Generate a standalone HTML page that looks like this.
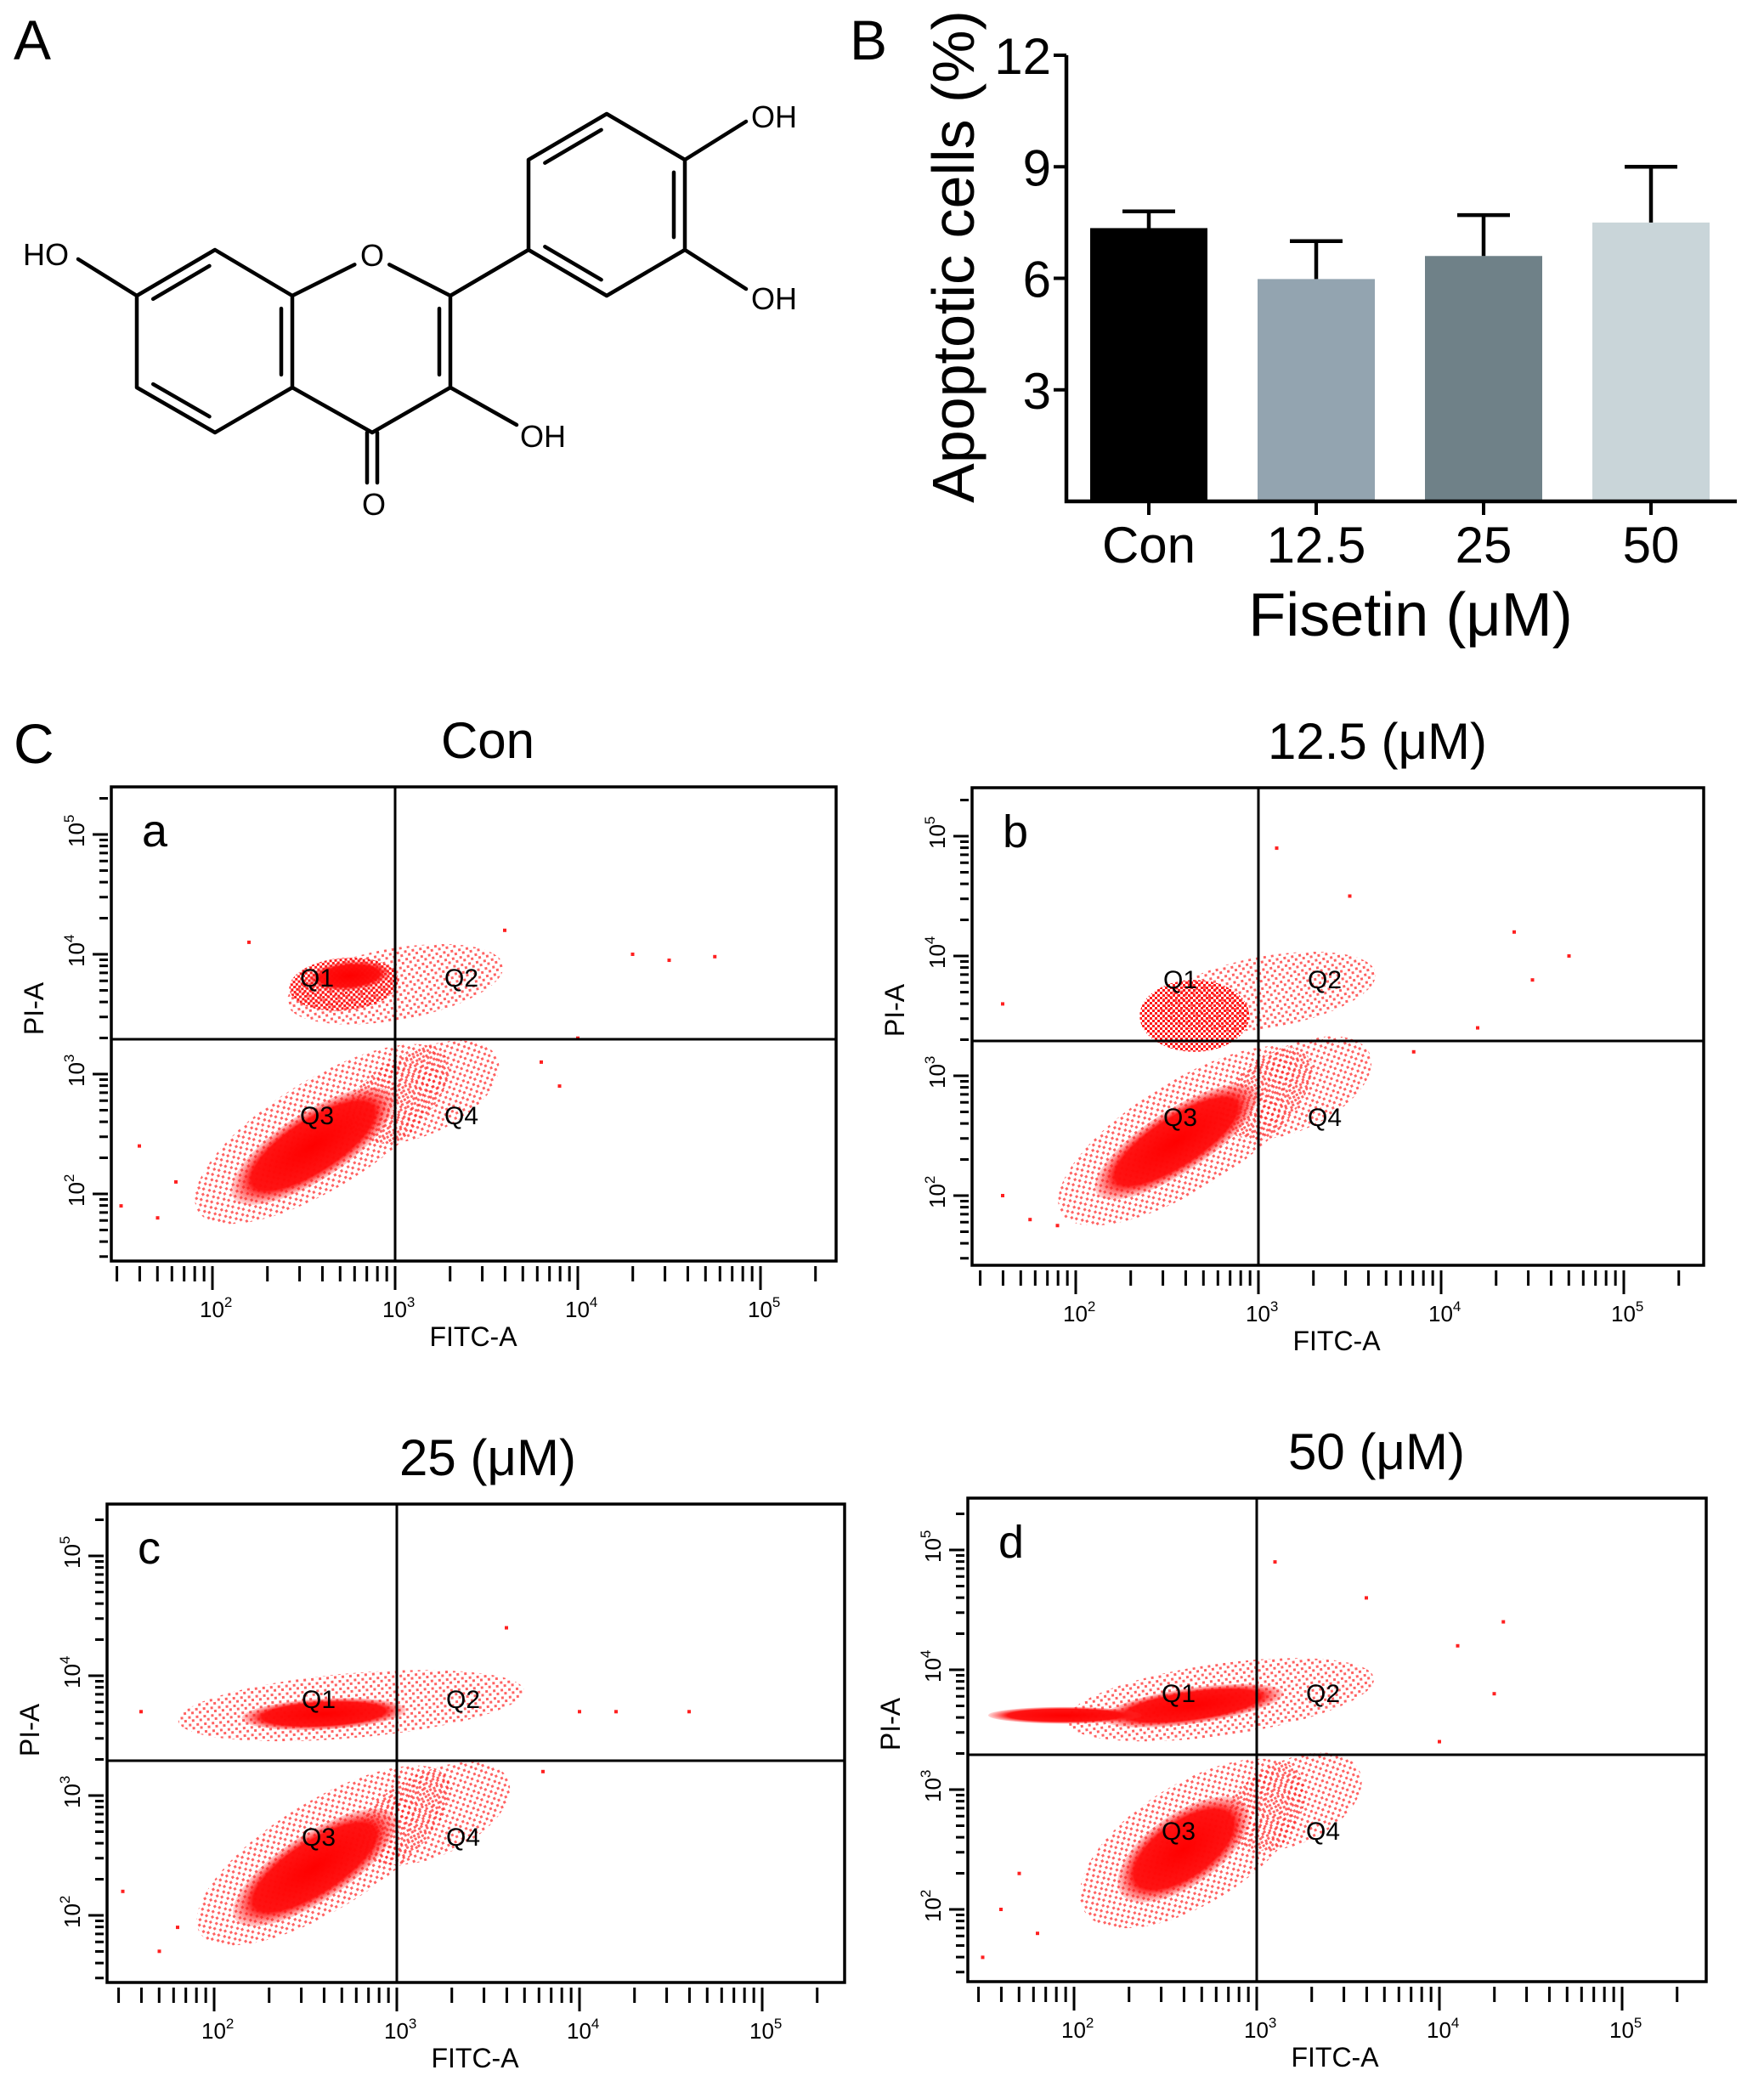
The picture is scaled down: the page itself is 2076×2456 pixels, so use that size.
<!DOCTYPE html>
<html><head><meta charset="utf-8">
<style>
html,body{margin:0;padding:0;background:#fff;}
svg{display:block;font-family:"Liberation Sans",Arial,sans-serif;}
</style></head>
<body>
<svg id="fig" width="2076" height="2456" viewBox="0 0 2076 2456" xmlns="http://www.w3.org/2000/svg">
<defs>
<pattern id="dots" width="9" height="9" patternUnits="userSpaceOnUse">
<rect x="0" y="0" width="3" height="3" fill="#ff2020"/>
<rect x="5" y="5" width="3" height="3" fill="#ff2020"/>
</pattern>
<pattern id="dots2" width="6" height="6" patternUnits="userSpaceOnUse">
<rect x="0" y="0" width="3" height="3" fill="#ff1a1a"/>
<rect x="3" y="3" width="3" height="3" fill="#ff1a1a"/>
</pattern>
<radialGradient id="core" cx="50%" cy="50%" r="50%">
<stop offset="0%" stop-color="#ff0000" stop-opacity="1"/>
<stop offset="75%" stop-color="#ff0c0c" stop-opacity="0.97"/>
<stop offset="100%" stop-color="#ff3030" stop-opacity="0.2"/>
</radialGradient>
</defs>

<text x="16" y="70" font-size="66">A</text>
<text x="1000" y="70" font-size="66">B</text>
<text x="16" y="898" font-size="66">C</text>

<g id="molecule"></g>
<g font-size="36">
<text x="438" y="313" text-anchor="middle">O</text>
<text x="440" y="606" text-anchor="middle">O</text>
<text x="27" y="312">HO</text>
<text x="612" y="526">OH</text>
<text x="884" y="150">OH</text>
<text x="884" y="364">OH</text>
</g>

<g id="barchart"></g>
<g id="flows"></g>
</svg>

<script>
// ---------- Bar chart data ----------
const barCategories = ["Con", "12.5", "25", "50"];
const barValues = [7.35, 5.98, 6.6, 7.5];
const barErrors = [0.45, 1.02, 1.1, 1.5];
const barColors = ["#000000", "#93a4b0", "#6f8188", "#c9d5d9"];
const barYTicks = [3, 6, 9, 12];

// ---------- Flow cytometry data (log10 units) ----------
const flowTitles = ["Con", "12.5 (\u03bcM)", "25 (\u03bcM)", "50 (\u03bcM)"];
const flowLetters = ["a", "b", "c", "d"];
// clusters: [centerLogX, centerLogY, radiusLogX, radiusLogY, tiltDeg, kind(2=core,1=medium,0=halo)]
const clustersA = [[2.6,2.5,0.8,0.45,32,0],[3.15,2.85,0.45,0.35,25,0],[3.0,3.75,0.6,0.3,10,0],[2.72,3.75,0.3,0.22,5,1],[2.55,2.4,0.52,0.28,33,2],[2.75,3.82,0.22,0.12,5,2]];
const clustersB = [[2.6,2.5,0.8,0.45,32,0],[3.2,2.9,0.45,0.35,25,0],[3.05,3.7,0.6,0.3,10,0],[2.65,3.5,0.3,0.3,0,1],[2.55,2.45,0.52,0.26,33,2]];
const clustersC = [[2.6,2.5,0.8,0.45,32,0],[3.2,2.85,0.45,0.35,25,0],[2.75,3.75,0.95,0.27,5,0],[2.55,2.4,0.52,0.28,33,2],[2.6,3.68,0.45,0.13,3,2]];
const clustersD = [[2.65,2.55,0.7,0.5,32,0],[3.2,2.9,0.4,0.35,25,0],[2.8,3.75,0.85,0.3,8,0],[2.6,2.5,0.42,0.3,35,2],[2.65,3.7,0.5,0.15,8,2],[1.95,3.62,0.42,0.07,0,2]];
const outliersA = [[4.3,4.0],[4.5,3.95],[4.75,3.98],[3.6,4.2],[2.2,4.1],[1.6,2.4],[1.5,1.9],[3.8,3.1],[4.0,3.3],[3.9,2.9],[1.8,2.1],[1.7,1.8]];
const outliersB = [[4.4,4.2],[4.7,4.0],[4.5,3.8],[3.5,4.5],[3.1,4.9],[1.6,3.6],[1.6,2.0],[4.2,3.4],[3.85,3.2],[1.75,1.8],[1.9,1.75]];
const outliersC = [[4.0,3.7],[4.2,3.7],[4.6,3.7],[3.6,4.4],[1.6,3.7],[1.5,2.2],[3.8,3.2],[1.8,1.9],[1.7,1.7]];
const outliersD = [[3.1,4.9],[3.6,4.6],[4.35,4.4],[4.1,4.2],[4.3,3.8],[1.6,2.0],[1.5,1.6],[4.0,3.4],[1.8,1.8],[1.7,2.3]];
const xTickDecades = [2, 3, 4, 5];
const yTickDecades = [2, 3, 4, 5];

// ---------- Molecule geometry ----------
const atoms = {C7:[161,348],C8:[253,294],C8a:[344,348],C4a:[344,456],C5:[253,509],C6:[161,456],
  O1:[438,301],C2:[530,348],C3:[530,456],C4:[438,509],
  C1p:[622,294],C2p:[622,188],C3p:[714,134],C4p:[806,188],C5p:[806,294],C6p:[714,348]};

const NS = "http://www.w3.org/2000/svg";
function mk(tag, attrs, parent){ const e=document.createElementNS(NS,tag); for(const k in attrs) e.setAttribute(k,attrs[k]); if(parent) parent.appendChild(e); return e; }

(function(){
  const g = document.getElementById("molecule");
  const A = atoms;
  let d = "";
  const line = (p,q) => { d += `M${p[0]} ${p[1]} L${q[0]} ${q[1]} `; };
  const trim = (p,q,a,b) => { const vx=q[0]-p[0], vy=q[1]-p[1]; return [[p[0]+vx*a,p[1]+vy*a],[p[0]+vx*b,p[1]+vy*b]]; };
  const inner = (p,q,c) => {
    const m = [(p[0]+q[0])/2,(p[1]+q[1])/2];
    let nx=c[0]-m[0], ny=c[1]-m[1]; const L=Math.hypot(nx,ny); nx=nx/L*13; ny=ny/L*13;
    const [a,b] = trim(p,q,0.14,0.86);
    line([a[0]+nx,a[1]+ny],[b[0]+nx,b[1]+ny]);
  };
  const cA=[252,402], cC=[437,402], cB=[714,241];
  line(A.C7,A.C8); line(A.C8,A.C8a); line(A.C8a,A.C4a); line(A.C4a,A.C5); line(A.C5,A.C6); line(A.C6,A.C7);
  inner(A.C7,A.C8,cA); inner(A.C8a,A.C4a,cA); inner(A.C5,A.C6,cA);
  let t = trim(A.C8a,A.O1,0,0.78); line(t[0],t[1]);
  t = trim(A.O1,A.C2,0.22,1); line(t[0],t[1]);
  line(A.C2,A.C3); line(A.C3,A.C4); line(A.C4,A.C4a);
  inner(A.C2,A.C3,cC);
  line([432,509],[432,568]); line([444,509],[444,568]);
  line(A.C3,[608,500]);
  line(A.C7,[92,305]);
  line(A.C2,A.C1p);
  line(A.C1p,A.C2p); line(A.C2p,A.C3p); line(A.C3p,A.C4p); line(A.C4p,A.C5p); line(A.C5p,A.C6p); line(A.C6p,A.C1p);
  inner(A.C2p,A.C3p,cB); inner(A.C4p,A.C5p,cB); inner(A.C6p,A.C1p,cB);
  line(A.C4p,[878,143]); line(A.C5p,[878,340]);
  const p = mk("path",{d:d,stroke:"#000","stroke-width":4.5,fill:"none","stroke-linecap":"round"},g);
  
  
})();

// ---------- Draw bar chart ----------
(function(){
  const g = document.getElementById("barchart");
  const x0 = 1255, x1 = 2044, y0 = 590, yTop = 65, vmax = 12;
  const yS = v => y0 - (v / vmax) * (y0 - yTop);
  const step = 197, firstC = 1352, bw = 138;
  const xC = i => firstC + i * step;
  barValues.forEach((v, i) => {
    const r = mk("rect", {x: xC(i) - bw/2, y: yS(v), width: bw, height: y0 - yS(v), fill: barColors[i]}, g);
    
    
    const e = mk("path", {d: `M${xC(i)} ${yS(v)} V${yS(v + barErrors[i])} M${xC(i)-31} ${yS(v + barErrors[i])} H${xC(i)+31}`, stroke: "#000", "stroke-width": 4.5, fill: "none"}, g);
    
    
    mk("line", {x1: xC(i), x2: xC(i), y1: y0, y2: y0 + 16, stroke: "#000", "stroke-width": 4}, g);
    const t = mk("text", {x: xC(i), y: 662, "text-anchor": "middle", "font-size": 60}, g);
    t.textContent = barCategories[i];
    
    
  });
  const ax = mk("path", {d: `M${x0} ${yTop} V${y0} H${x1}`, stroke: "#000", "stroke-width": 4.5, fill: "none"}, g);
  
  
  barYTicks.forEach(v => {
    mk("line", {x1: x0 - 15, x2: x0, y1: yS(v), y2: yS(v), stroke: "#000", "stroke-width": 4}, g);
    const t = mk("text", {x: x0 - 18, y: yS(v) + 22, "text-anchor": "end", "font-size": 60}, g);
    t.textContent = v;
    
    
  });
  const yt = mk("text", {x: 0, y: 0, transform: "translate(1146,302) rotate(-90)", "text-anchor": "middle", "font-size": 70}, g);
  yt.textContent = "Apoptotic cells (%)";
  
  
  const xt = mk("text", {x: 1660, y: 748, "text-anchor": "middle", "font-size": 72}, g);
  xt.textContent = "Fisetin (\u03bcM)";
  
  
})();

// ---------- Draw flow panels ----------
(function(){
  const root = document.getElementById("flows");
  const boxes = [[131,926,984,1484,465,1223],[1144,927,2005,1489,1481,1225],[126,1770,994,2333,467,2072],[1139,1763,2008,2332,1479,2065]];
  const titleOffsets = [109, 140, 107, 141];
  const clusters = [clustersA, clustersB, clustersC, clustersD];
  const outliers = [outliersA, outliersB, outliersC, outliersD];
  const dx = 215, dy = 141;
  boxes.forEach((b, p) => {
    const [L,T,R,B,vx,hy] = b;
    const g = mk("g", {}, root);
    
    
    const X = lx => vx + (lx - 3) * dx;
    const Y = ly => (hy + 41) - (ly - 3) * dy;
    const clipId = "clip" + p;
    const cp = mk("clipPath", {id: clipId}, g);
    mk("rect", {x: L, y: T, width: R - L, height: B - T}, cp);
    const cg = mk("g", {"clip-path": `url(#${clipId})`}, g);
    clusters[p].forEach(c => {
      const fill = c[5] === 2 ? "url(#core)" : (c[5] === 1 ? "url(#dots2)" : "url(#dots)");
      const e = mk("ellipse", {cx: X(c[0]), cy: Y(c[1]), rx: c[2] * dx, ry: c[3] * dy,
        transform: `rotate(${-c[4]} ${X(c[0])} ${Y(c[1])})`,
        fill: fill, opacity: c[5] === 0 ? 0.7 : 1}, cg);
      
      
    });
    outliers[p].forEach(o => {
      const d = mk("rect", {x: X(o[0]) - 2, y: Y(o[1]) - 2, width: 4, height: 4, fill: "#ff2020"}, cg);
      
      
    });
    const box = mk("rect", {x: L, y: T, width: R - L, height: B - T, fill: "none", stroke: "#000", "stroke-width": 3.5}, g);
    
    
    const gate = mk("path", {d: `M${vx} ${T} V${B} M${L} ${hy} H${R}`, stroke: "#000", "stroke-width": 3}, g);
    
    
    let tp = "";
    for (let d = 1; d <= 5; d++) for (let m = 1; m <= 9; m++) {
      const lv = d + Math.log10(m);
      const xx = X(lv);
      if (xx > L + 5 && xx < R - 20) tp += `M${xx} ${B + 6} V${B + (m === 1 ? 34 : 24)}`;
      const yy = Y(lv);
      if (yy > T + 5 && yy < B - 5) tp += `M${L - (m === 1 ? 22 : 14)} ${yy} H${L - 4}`;
    }
    mk("path", {d: tp, stroke: "#000", "stroke-width": 3}, g);
    xTickDecades.forEach(d => {
      const t = mk("text", {x: X(d) - 15, y: B + 66, "font-size": 26}, g);
      t.innerHTML = '10<tspan dy="-12" font-size="17">' + d + '</tspan>';
      
      
    });
    yTickDecades.forEach(d => {
      const t = mk("text", {x: 0, y: 0, transform: `translate(${L - 32},${Y(d) + 15}) rotate(-90)`, "font-size": 26}, g);
      t.innerHTML = '10<tspan dy="-12" font-size="17">' + d + '</tspan>';
      
      
    });
    const xl = mk("text", {x: vx + 92, y: B + 100, "text-anchor": "middle", "font-size": 32}, g);
    xl.textContent = "FITC-A";
    
    
    const yl = mk("text", {x: 0, y: 0, transform: `translate(${L - 80},${hy - 36}) rotate(-90)`, "text-anchor": "middle", "font-size": 32}, g);
    yl.textContent = "PI-A";
    
    
    const ttl = mk("text", {x: vx + titleOffsets[p], y: T - 34, "text-anchor": "middle", "font-size": 60}, g);
    ttl.textContent = flowTitles[p];
    
    
    const lt = mk("text", {x: L + 36, y: T + 70, "font-size": 54}, g);
    lt.textContent = flowLetters[p];
    
    
    [["Q1", -112, -62], ["Q2", 58, -62], ["Q3", -112, 100], ["Q4", 58, 100]].forEach(q => {
      const t = mk("text", {x: vx + q[1], y: hy + q[2], "font-size": 30}, g);
      t.textContent = q[0];
      
      
    });
  });
})();
</script>
</body></html>
